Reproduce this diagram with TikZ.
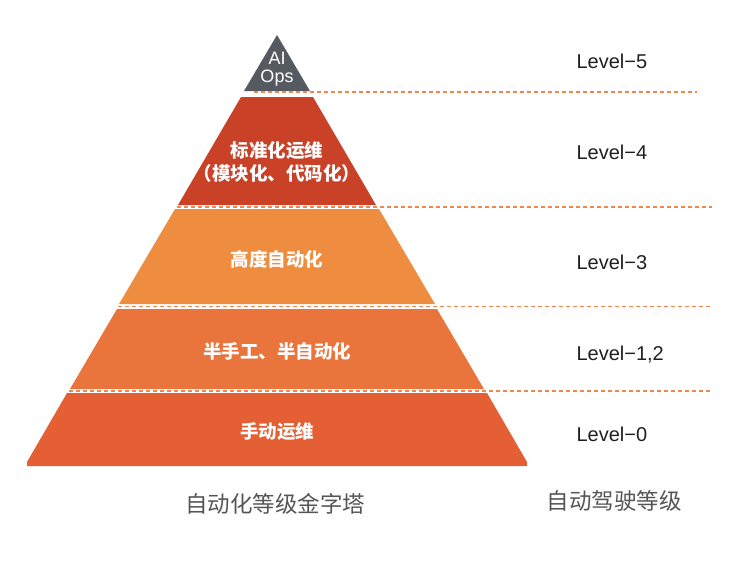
\documentclass[tikz,border=0pt]{standalone}
\usepackage{fontspec}
\setmainfont{Liberation Sans}
\newfontfamily\cjk{Noto Sans CJK SC}
\definecolor{aiops}{RGB}{85,90,97}
\definecolor{lvfour}{RGB}{201,66,40}
\definecolor{lvthree}{RGB}{238,140,64}
\definecolor{lvtwo}{RGB}{233,116,60}
\definecolor{lvzero}{RGB}{229,95,52}
\definecolor{dashline}{RGB}{240,135,80}
\definecolor{captext}{RGB}{85,85,85}
\begin{document}
\begin{tikzpicture}[x=1pt, y=-1pt,
bandtext/.style={
        text=white,
        align=center,
        font=\cjk\bfseries\fontsize{18.5}{23}\selectfont,
    },
leveltext/.style={
        anchor=west,
        text=black!88,
        font=\fontsize{20}{24}\selectfont,
    },
sepline/.style={
        dashline,
        dash pattern=on 4pt off 3pt,
        line width=1.3pt,
    },
caption/.style={
        text=captext,
        font=\cjk\fontsize{22.5}{26}\selectfont,
    },
 ]
\useasboundingbox (0,0) rectangle (730,560);

% pyramid bands
\fill[aiops] (277,35) -- (310,91) -- (244,91) -- cycle;
\fill[lvfour] (241,97) -- (313,97) -- (376,205) -- (178,205) -- cycle;
\fill[lvthree] (175,209) -- (379,209) -- (435,304) -- (119,304) -- cycle;
\fill[lvtwo] (117,309) -- (437,309) -- (484,389) -- (70,389) -- cycle;
\fill[lvzero] (67,393) -- (487,393) -- (527,462) -- (527,466) -- (27,466) -- (27,462) -- cycle;

% separators
\draw[sepline] (254,92) -- (697,92);
\draw[sepline] (177,207) -- (712,207);
\draw[sepline] (118,306.5) -- (712,306.5);
\draw[sepline] (69,391) -- (712,391);

\node[text=white, align=center, inner sep=0pt, font=\fontsize{18}{17.5}\selectfont] (aiops) at (277,69) {AI\\Ops};
\node[bandtext] (standard) at (277,162) {标准化运维\\（模块化、代码化）};
\node[bandtext] (highauto) at (277,259) {高度自动化};
\node[bandtext] (semiauto) at (277,351) {半手工、半自动化};
\node[bandtext] (manual) at (277,432) {手动运维};

\node[leveltext] (lvl5) at (573,61) {Level\textminus5};
\node[leveltext] (lvl4) at (573,152) {Level\textminus4};
\node[leveltext] (lvl3) at (573,262) {Level\textminus3};
\node[leveltext] (lvl12) at (573,355) {Level\textminus1,2};
\node[leveltext] (lvl0) at (573,434) {Level\textminus0};

\node[caption] (pyramidcap) at (275,504) {自动化等级金字塔};
\node[caption] (levelcap) at (614,501) {自动驾驶等级};
\end{tikzpicture}
\end{document}
